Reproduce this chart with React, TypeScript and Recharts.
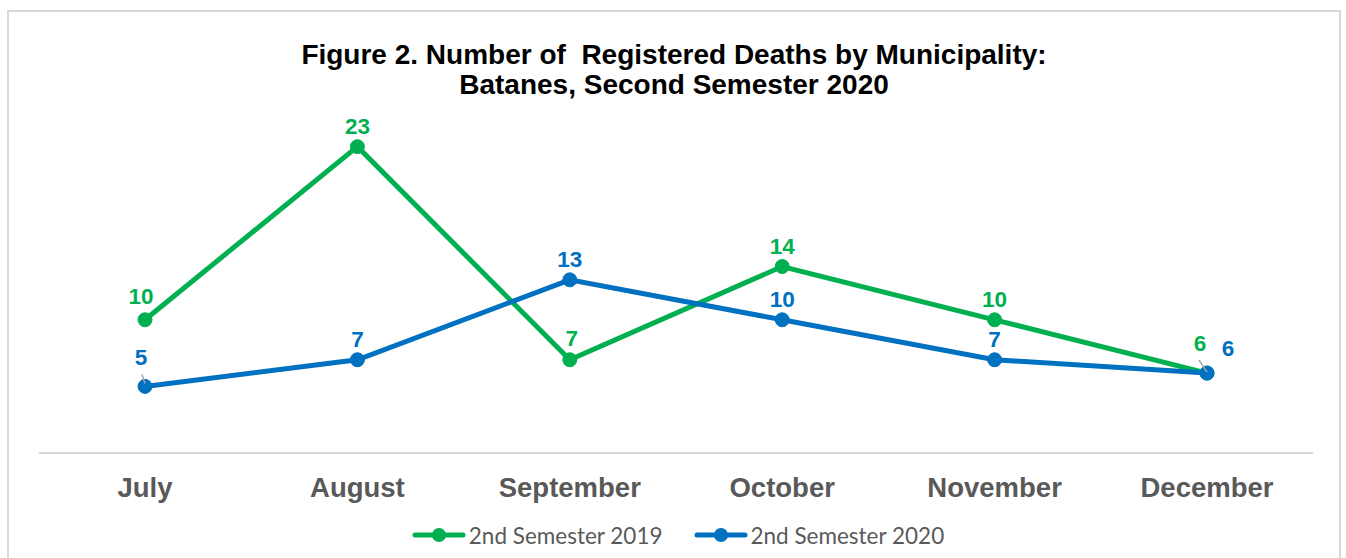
import React from "react";
import { LineChart, Line, XAxis, YAxis, Legend, LabelList } from "recharts";

const months = ["July", "August", "September", "October", "November", "December"];
const deaths2019 = [10, 23, 7, 14, 10, 6];
const deaths2020 = [5, 7, 13, 10, 7, 6];
const seriesNames = ["2nd Semester 2019", "2nd Semester 2020"];

const GREEN = "#00b050";
const BLUE = "#0070c0";
const GREY = "#595959";
const ARIAL = "'Liberation Sans', Arial, sans-serif";

const data = months.map((m, i) => ({ month: m, s2019: deaths2019[i], s2020: deaths2020[i] }));

type Nudge = { dx: number; dy: number; leader?: [number, number, number, number] };

// where the labels were dragged off their default spot (offsets from the point)
const nudge2019: Record<number, Nudge> = {
  0: { dx: -4, dy: -16 },
  2: { dx: 2, dy: -14 },
  5: { dx: -7, dy: -22, leader: [-8, -13, 0, -1] },
};
const nudge2020: Record<number, Nudge> = {
  0: { dx: -4, dy: -21, leader: [-3, -12, 0, -3] },
  5: { dx: 21, dy: -17 },
};

const makeLabel = (color: string, nudges: Record<number, Nudge>) => (props: any) => {
  const vb = props.viewBox || {};
  const x = vb.x ?? props.x;
  const y = vb.y ?? props.y;
  const n = nudges[props.index] ?? { dx: 0, dy: -13 };
  return (
    <g>
      {n.leader && (
        <line
          x1={x + n.leader[0]}
          y1={y + n.leader[1]}
          x2={x + n.leader[2]}
          y2={y + n.leader[3]}
          stroke="#a6a6a6"
          strokeWidth={1.5}
        />
      )}
      <text
        x={x + n.dx}
        y={y + n.dy}
        textAnchor="middle"
        fill={color}
        fontSize={22.5}
        fontWeight="bold"
        fontFamily={ARIAL}
      >
        {props.value}
      </text>
    </g>
  );
};

const renderLegend = () => (
  <div
    style={{
      display: "flex",
      justifyContent: "center",
      alignItems: "center",
      gap: 31,
      height: 30,
      paddingLeft: 4,
      fontFamily: "Lato, 'Open Sans', sans-serif",
      fontSize: 22.5,
      color: GREY,
    }}
  >
    {[GREEN, BLUE].map((c, i) => (
      <div key={i} style={{ display: "flex", alignItems: "center" }}>
        <svg width={54} height={18}>
          <line x1={3} x2={51} y1={9} y2={9} stroke={c} strokeWidth={5} strokeLinecap="round" />
          <circle cx={27} cy={9} r={7} fill={c} />
        </svg>
        <span style={{ marginLeft: 3 }}>{seriesNames[i]}</span>
      </div>
    ))}
  </div>
);

export default function App() {
  return (
    <div style={{ position: "absolute", left: 0, top: 0, width: 1346, height: 558, background: "#fff", overflow: "hidden" }}>
      <div
        style={{
          position: "absolute",
          left: 7,
          top: 10,
          width: 1334,
          height: 560,
          border: "2px solid #d9d9d9",
          boxSizing: "border-box",
        }}
      />
      <div
        style={{
          position: "absolute",
          left: 0,
          top: 40,
          width: 1348,
          textAlign: "center",
          fontFamily: ARIAL,
          fontWeight: "bold",
          fontSize: 28,
          lineHeight: "30px",
          color: "#000",
          whiteSpace: "pre",
        }}
      >
        {"Figure 2. Number of  Registered Deaths by Municipality:\nBatanes, Second Semester 2020"}
      </div>
      <LineChart
        width={1346}
        height={558}
        data={data}
        margin={{ top: 120, right: 33, left: 39, bottom: 8 }}
        style={{ position: "absolute", left: 0, top: 0 }}
      >
        <XAxis
          dataKey="month"
          scale="point"
          padding={{ left: 106, right: 106 }}
          height={67}
          tickLine={false}
          tickSize={6}
          tickMargin={18}
          axisLine={{ stroke: "#d9d9d9", strokeWidth: 2 }}
          tick={{ fill: GREY, fontSize: 27.5, fontWeight: "bold", fontFamily: ARIAL }}
        />
        <YAxis hide domain={[0, 25]} />
        <Legend verticalAlign="bottom" content={renderLegend} wrapperStyle={{ height: 30 }} />
        <Line
          dataKey="s2019"
          name={seriesNames[0]}
          stroke={GREEN}
          strokeWidth={5}
          dot={{ r: 7, fill: GREEN, stroke: GREEN, strokeWidth: 1 }}
          activeDot={false}
          isAnimationActive={false}
        >
          <LabelList dataKey="s2019" content={makeLabel(GREEN, nudge2019)} />
        </Line>
        <Line
          dataKey="s2020"
          name={seriesNames[1]}
          stroke={BLUE}
          strokeWidth={5}
          dot={{ r: 7, fill: BLUE, stroke: BLUE, strokeWidth: 1 }}
          activeDot={false}
          isAnimationActive={false}
        >
          <LabelList dataKey="s2020" content={makeLabel(BLUE, nudge2020)} />
        </Line>
      </LineChart>
    </div>
  );
}
